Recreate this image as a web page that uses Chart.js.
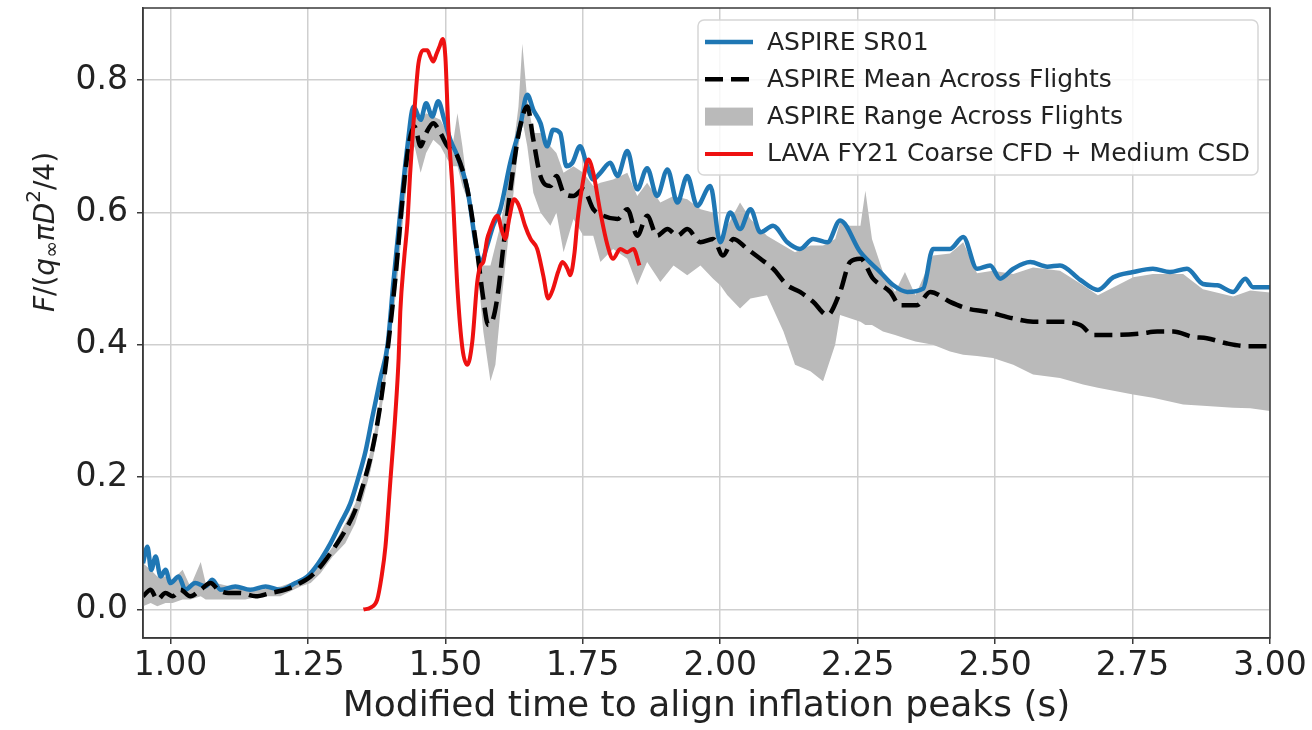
<!DOCTYPE html>
<html>
<head>
<meta charset="utf-8">
<script src="https://cdn.jsdelivr.net/npm/chart.js@4.4.1/dist/chart.umd.min.js"></script>
<style>
  html, body { margin: 0; padding: 0; background: #ffffff; }
  canvas { display: block; }
</style>
</head>
<body>
<canvas id="chart" width="1312" height="730"></canvas>
<script>
// ---- ASPIRE SR01 flight ----
const sr01X = [0.950,0.958,0.965,0.973,0.982,0.991,1.000,1.015,1.027,1.045,1.064,1.076,1.091,1.118,1.145,1.173,1.200,1.227,1.249,1.269,1.291,1.309,1.327,1.342,1.355,1.367,1.382,1.395,1.405,1.418,1.431,1.442,1.455,1.465,1.476,1.487,1.498,1.509,1.522,1.540,1.558,1.565,1.576,1.587,1.600,1.618,1.636,1.649,1.660,1.673,1.685,1.696,1.709,1.720,1.731,1.745,1.758,1.769,1.782,1.800,1.813,1.831,1.849,1.867,1.885,1.904,1.922,1.940,1.958,1.982,2.000,2.018,2.036,2.055,2.073,2.096,2.122,2.145,2.169,2.195,2.218,2.255,2.291,2.315,2.340,2.369,2.387,2.418,2.442,2.467,2.491,2.509,2.533,2.564,2.595,2.618,2.655,2.687,2.715,2.751,2.787,2.818,2.849,2.878,2.904,2.933,2.955,2.969,3.000];
const sr01Y = [0.07,0.095,0.06,0.08,0.05,0.06,0.04,0.05,0.03,0.04,0.035,0.045,0.03,0.035,0.03,0.035,0.03,0.04,0.05,0.07,0.10,0.13,0.16,0.20,0.24,0.29,0.35,0.40,0.49,0.60,0.70,0.76,0.74,0.765,0.745,0.768,0.74,0.71,0.685,0.635,0.54,0.525,0.55,0.58,0.605,0.675,0.73,0.778,0.755,0.735,0.70,0.725,0.72,0.67,0.675,0.70,0.67,0.65,0.66,0.675,0.655,0.693,0.635,0.667,0.625,0.665,0.615,0.655,0.61,0.64,0.555,0.60,0.575,0.605,0.57,0.58,0.555,0.545,0.56,0.555,0.588,0.54,0.51,0.49,0.48,0.485,0.545,0.545,0.563,0.515,0.52,0.50,0.515,0.525,0.518,0.52,0.498,0.483,0.502,0.51,0.515,0.51,0.515,0.492,0.49,0.48,0.50,0.487,0.487];

// ---- ASPIRE mean across flights ----
const meanX = [0.950,0.964,0.976,0.991,1.004,1.018,1.036,1.055,1.073,1.087,1.105,1.127,1.155,1.182,1.209,1.236,1.255,1.273,1.295,1.318,1.336,1.351,1.364,1.376,1.387,1.396,1.409,1.422,1.433,1.444,1.455,1.465,1.478,1.491,1.504,1.522,1.540,1.558,1.569,1.578,1.587,1.596,1.605,1.624,1.636,1.649,1.660,1.673,1.691,1.702,1.715,1.733,1.751,1.769,1.787,1.813,1.831,1.849,1.867,1.885,1.904,1.922,1.940,1.964,1.987,2.005,2.024,2.049,2.073,2.096,2.122,2.145,2.169,2.195,2.218,2.236,2.255,2.278,2.309,2.327,2.358,2.382,2.418,2.449,2.485,2.533,2.569,2.613,2.655,2.678,2.715,2.764,2.795,2.824,2.860,2.885,2.922,2.958,3.000];
const meanY = [0.02,0.03,0.015,0.025,0.02,0.03,0.02,0.03,0.04,0.03,0.025,0.025,0.02,0.025,0.03,0.04,0.05,0.065,0.09,0.12,0.15,0.19,0.23,0.28,0.34,0.40,0.50,0.62,0.70,0.73,0.70,0.72,0.735,0.72,0.70,0.685,0.635,0.54,0.47,0.43,0.44,0.48,0.545,0.67,0.73,0.76,0.71,0.655,0.64,0.655,0.63,0.625,0.635,0.605,0.595,0.59,0.605,0.565,0.595,0.565,0.575,0.565,0.575,0.555,0.56,0.535,0.56,0.545,0.53,0.515,0.49,0.48,0.465,0.445,0.48,0.525,0.53,0.50,0.48,0.46,0.46,0.48,0.465,0.455,0.45,0.44,0.435,0.435,0.43,0.415,0.415,0.417,0.42,0.42,0.412,0.41,0.402,0.398,0.398];

// ---- ASPIRE range across flights (min / max envelope) ----
const rangeX = [0.950,0.964,0.976,0.991,1.004,1.022,1.036,1.055,1.064,1.082,1.109,1.136,1.164,1.200,1.236,1.255,1.273,1.295,1.318,1.336,1.351,1.364,1.376,1.387,1.396,1.409,1.422,1.433,1.444,1.455,1.465,1.478,1.491,1.504,1.513,1.522,1.531,1.540,1.558,1.569,1.582,1.591,1.600,1.609,1.624,1.633,1.640,1.649,1.660,1.673,1.691,1.702,1.715,1.733,1.751,1.769,1.782,1.805,1.831,1.849,1.867,1.891,1.915,1.940,1.964,1.987,2.000,2.013,2.036,2.055,2.085,2.115,2.136,2.164,2.187,2.209,2.218,2.236,2.255,2.264,2.276,2.296,2.318,2.336,2.355,2.387,2.418,2.442,2.467,2.496,2.533,2.569,2.618,2.660,2.687,2.751,2.787,2.842,2.878,2.933,2.964,3.000];
const rangeMax = [0.07,0.06,0.05,0.05,0.045,0.06,0.035,0.072,0.04,0.04,0.035,0.03,0.03,0.035,0.045,0.055,0.07,0.095,0.13,0.16,0.20,0.24,0.29,0.35,0.41,0.50,0.62,0.71,0.745,0.74,0.75,0.745,0.74,0.72,0.70,0.75,0.70,0.64,0.54,0.52,0.52,0.55,0.58,0.62,0.70,0.76,0.855,0.77,0.72,0.72,0.70,0.69,0.66,0.67,0.66,0.64,0.645,0.65,0.66,0.625,0.645,0.615,0.625,0.62,0.605,0.60,0.555,0.58,0.615,0.59,0.565,0.55,0.54,0.55,0.55,0.56,0.585,0.58,0.58,0.633,0.56,0.51,0.48,0.51,0.475,0.535,0.538,0.555,0.508,0.512,0.507,0.517,0.512,0.49,0.475,0.502,0.507,0.507,0.484,0.473,0.482,0.479];
const rangeMin = [0.005,0.01,0.005,0.01,0.01,0.015,0.015,0.02,0.015,0.015,0.015,0.015,0.02,0.02,0.035,0.04,0.055,0.08,0.10,0.13,0.17,0.21,0.26,0.32,0.38,0.47,0.58,0.67,0.70,0.66,0.69,0.71,0.70,0.68,0.67,0.67,0.64,0.62,0.52,0.42,0.345,0.37,0.45,0.52,0.63,0.70,0.74,0.70,0.63,0.60,0.58,0.60,0.54,0.59,0.565,0.565,0.525,0.545,0.53,0.49,0.525,0.495,0.52,0.505,0.52,0.50,0.49,0.475,0.455,0.47,0.475,0.42,0.37,0.36,0.345,0.40,0.445,0.44,0.435,0.43,0.43,0.42,0.415,0.41,0.405,0.40,0.39,0.385,0.383,0.38,0.37,0.355,0.35,0.34,0.335,0.325,0.32,0.31,0.308,0.305,0.304,0.30];

// ---- LAVA FY21 coarse CFD + medium CSD ----
const lavaX = [1.351,1.364,1.376,1.384,1.391,1.400,1.409,1.415,1.418,1.425,1.431,1.436,1.442,1.447,1.451,1.460,1.467,1.473,1.478,1.484,1.489,1.495,1.500,1.505,1.513,1.522,1.531,1.540,1.549,1.558,1.564,1.569,1.576,1.582,1.589,1.595,1.602,1.609,1.616,1.625,1.631,1.636,1.645,1.655,1.667,1.678,1.687,1.696,1.705,1.713,1.722,1.727,1.735,1.740,1.751,1.760,1.769,1.782,1.795,1.805,1.818,1.831,1.842,1.853];
const lavaY = [0.0,0.003,0.015,0.05,0.095,0.195,0.295,0.38,0.45,0.53,0.585,0.66,0.735,0.79,0.825,0.845,0.845,0.835,0.828,0.84,0.85,0.862,0.835,0.735,0.635,0.485,0.395,0.37,0.405,0.495,0.52,0.525,0.56,0.575,0.59,0.595,0.575,0.56,0.59,0.62,0.615,0.605,0.58,0.56,0.545,0.505,0.47,0.485,0.51,0.525,0.515,0.505,0.54,0.585,0.65,0.68,0.66,0.60,0.55,0.53,0.545,0.54,0.545,0.52];

// ---- axis ticks ----
const xTicks = [1.00, 1.25, 1.50, 1.75, 2.00, 2.25, 2.50, 2.75, 3.00];
const yTicks = [0.0, 0.2, 0.4, 0.6, 0.8];

const toPoints = (xs, ys) => xs.map((x, i) => ({ x: x, y: ys[i] }));

const COLORS = {
  sr01: '#1f77b4',
  mean: '#000000',
  range: '#bababa',
  lava: '#ee1111'
};

// Closed frame around the plotting area
const framePlugin = {
  id: 'frame',
  afterDatasetsDraw(chart) {
    const { ctx, chartArea: a } = chart;
    ctx.save();
    ctx.strokeStyle = '#3a3a3a';
    ctx.lineWidth = 1.5;
    ctx.strokeRect(a.left, a.top, a.right - a.left, a.bottom - a.top);
    ctx.restore();
  }
};

// Rotated y-axis label with math-style sub/superscripts
const yTitlePlugin = {
  id: 'yTitle',
  afterDraw(chart) {
    const { ctx } = chart;
    const size = 28;
    const parts = [
      { t: 'F', style: 'italic', scale: 1, dy: 0 },
      { t: '/(', style: 'normal', scale: 1, dy: 0 },
      { t: 'q', style: 'italic', scale: 1, dy: 0 },
      { t: '\u221E', style: 'normal', scale: 0.7, dy: 0.22 },
      { t: '\u03C0', style: 'italic', scale: 1, dy: 0 },
      { t: 'D', style: 'italic', scale: 1, dy: 0 },
      { t: '2', style: 'normal', scale: 0.7, dy: -0.42 },
      { t: '/4)', style: 'normal', scale: 1, dy: 0 }
    ];
    ctx.save();
    ctx.translate(45, 232);
    ctx.rotate(-Math.PI / 2);
    ctx.fillStyle = '#222222';
    ctx.textBaseline = 'middle';
    const fontFor = p => `${p.style} ${Math.round(size * p.scale)}px "DejaVu Sans"`;
    let total = 0;
    parts.forEach(p => { ctx.font = fontFor(p); p.w = ctx.measureText(p.t).width; total += p.w; });
    let x = -total / 2;
    parts.forEach(p => {
      ctx.font = fontFor(p);
      ctx.fillText(p.t, x, p.dy * size + 2);
      x += p.w;
    });
    ctx.restore();
  }
};

// Legend box inside the upper right of the plot
const legendPlugin = {
  id: 'boxLegend',
  afterDraw(chart) {
    const { ctx } = chart;
    const ds = chart.data.datasets;
    const entries = [ds[2], ds[3], ds[1], ds[4]];
    const bx = 698, by = 20, bw = 560, bh = 155;
    ctx.save();
    ctx.beginPath();
    ctx.roundRect(bx, by, bw, bh, 6);
    ctx.fillStyle = 'rgba(255,255,255,0.82)';
    ctx.fill();
    ctx.strokeStyle = '#d6d6d6';
    ctx.lineWidth = 1.5;
    ctx.stroke();
    ctx.font = '25px "DejaVu Sans"';
    ctx.textBaseline = 'middle';
    entries.forEach((d, i) => {
      const cy = 42 + i * 37.3;
      if (d.fill) {
        ctx.fillStyle = d.backgroundColor;
        ctx.fillRect(705, cy - 9, 48, 18);
      } else {
        ctx.beginPath();
        ctx.setLineDash(d.borderDash || []);
        ctx.strokeStyle = d.borderColor;
        ctx.lineWidth = d.borderWidth;
        ctx.moveTo(705, cy);
        ctx.lineTo(753, cy);
        ctx.stroke();
        ctx.setLineDash([]);
      }
      ctx.fillStyle = '#222222';
      ctx.fillText(d.label, 767, cy + 1);
    });
    ctx.restore();
  }
};

const lineStyle = { pointRadius: 0, fill: false, cubicInterpolationMode: 'monotone', borderJoinStyle: 'round', borderCapStyle: 'butt' };

new Chart(document.getElementById('chart'), {
  type: 'line',
  data: {
    datasets: [
      { label: 'range min', data: toPoints(rangeX, rangeMin), borderWidth: 0, pointRadius: 0, fill: false, order: 4, borderColor: 'rgba(0,0,0,0)' },
      { label: 'ASPIRE Range Across Flights', data: toPoints(rangeX, rangeMax), borderWidth: 0, pointRadius: 0, fill: '-1', backgroundColor: COLORS.range, borderColor: 'rgba(0,0,0,0)', order: 3 },
      Object.assign({ label: 'ASPIRE SR01', data: toPoints(sr01X, sr01Y), borderColor: COLORS.sr01, borderWidth: 4.5, order: 2 }, lineStyle),
      Object.assign({ label: 'ASPIRE Mean Across Flights', data: toPoints(meanX, meanY), borderColor: COLORS.mean, borderWidth: 4.5, borderDash: [18, 8], order: 1 }, lineStyle),
      Object.assign({ label: 'LAVA FY21 Coarse CFD + Medium CSD', data: toPoints(lavaX, lavaY), borderColor: COLORS.lava, borderWidth: 4, order: 0 }, lineStyle)
    ]
  },
  options: {
    responsive: false,
    animation: false,
    events: [],
    layout: { padding: { top: 8, right: 42, left: 0, bottom: 0 } },
    plugins: { legend: { display: false }, tooltip: { enabled: false } },
    scales: {
      x: {
        type: 'linear',
        min: 0.95,
        max: 3.0,
        afterFit(scale) { scale.height = 92; scale.paddingLeft = 0; scale.paddingRight = 0; },
        afterBuildTicks(scale) { scale.ticks = xTicks.map(v => ({ value: v })); },
        ticks: {
          callback: v => Number(v).toFixed(2),
          font: { size: 33, family: 'DejaVu Sans' },
          color: '#222222',
          padding: 3,
          maxRotation: 0,
          autoSkip: false
        },
        grid: { color: '#cfcfcf', lineWidth: 1.5, tickColor: '#3a3a3a', tickLength: 6 },
        border: { color: '#3a3a3a', width: 1.5 },
        title: {
          display: true,
          text: 'Modified time to align inflation peaks (s)',
          font: { size: 36, family: 'DejaVu Sans' },
          color: '#222222',
          padding: { top: 0, bottom: 2 }
        }
      },
      y: {
        type: 'linear',
        min: -0.043,
        max: 0.909,
        afterFit(scale) { scale.width = 143; scale.paddingTop = 0; scale.paddingBottom = 0; },
        afterBuildTicks(scale) { scale.ticks = yTicks.map(v => ({ value: v })); },
        ticks: {
          callback: v => Number(v).toFixed(1),
          font: { size: 33, family: 'DejaVu Sans' },
          color: '#222222',
          padding: 9
        },
        grid: { color: '#cfcfcf', lineWidth: 1.5, tickColor: '#3a3a3a', tickLength: 6 },
        border: { color: '#3a3a3a', width: 1.5 }
      }
    }
  },
  plugins: [framePlugin, yTitlePlugin, legendPlugin]
});
</script>
</body>
</html>
